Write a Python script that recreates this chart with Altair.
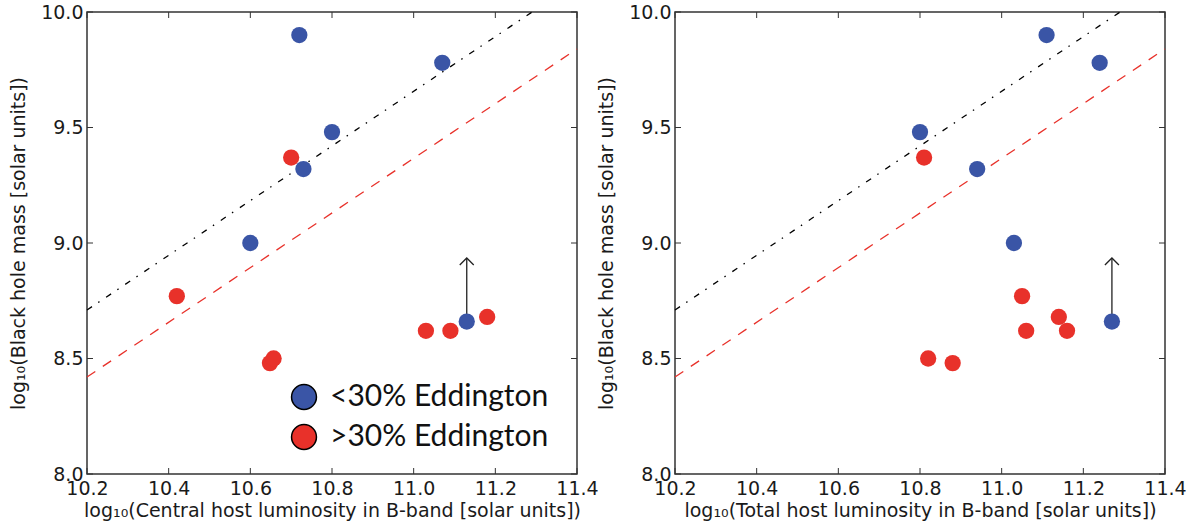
import altair as alt
import pandas as pd

# ---------------- data ----------------
x_ticks = [10.2, 10.4, 10.6, 10.8, 11.0, 11.2, 11.4]
y_ticks = [8.0, 8.5, 9.0, 9.5, 10.0]

groups = ["<30% Eddington", ">30% Eddington"]
colors = ["#3a55a6", "#e8312a"]

left_low_x = [10.72, 11.07, 10.80, 10.73, 10.60, 11.13]
left_low_y = [9.90, 9.78, 9.48, 9.32, 9.00, 8.66]
left_high_x = [10.70, 10.42, 10.648, 10.657, 11.03, 11.09, 11.18]
left_high_y = [9.37, 8.77, 8.48, 8.50, 8.62, 8.62, 8.68]

right_low_x = [11.11, 11.24, 10.80, 10.94, 11.03, 11.27]
right_low_y = [9.90, 9.78, 9.48, 9.32, 9.00, 8.66]
right_high_x = [10.81, 11.05, 11.14, 11.06, 11.16, 10.82, 10.88]
right_high_y = [9.37, 8.77, 8.68, 8.62, 8.62, 8.50, 8.48]

black_line_x = [10.2, 11.29]
black_line_y = [8.71, 10.0]
red_line_x = [10.2, 11.4]
red_line_y = [8.42, 9.84]

left_arrow_x = [11.13]
right_arrow_x = [11.27]
arrow_from = [8.66]
arrow_to = [8.935]

x_titles = [
    "log\u2081\u2080(Central host luminosity in B-band [solar units])",
    "log\u2081\u2080(Total host luminosity in B-band [solar units])",
]
y_title = "log\u2081\u2080(Black hole mass [solar units])"

W, H = 490, 462
TICK = 6
FRAME = "#333333"
AXFONT = "DejaVu Sans"


def points_df(hx, hy, lx, ly):
    rows = [{"x": a, "y": b, "g": groups[1]} for a, b in zip(hx, hy)]
    rows += [{"x": a, "y": b, "g": groups[0]} for a, b in zip(lx, ly)]
    return pd.DataFrame(rows)


xscale = alt.Scale(domain=[10.2, 11.4], nice=False, zero=False)
yscale = alt.Scale(domain=[8.0, 10.0], nice=False, zero=False)


def panel(pts, arrow_x, xtitle, show_legend):
    xt = pd.DataFrame({"v": x_ticks})
    yt = pd.DataFrame({"v": y_ticks})

    x_axis = alt.Axis(
        values=x_ticks, format=".1f", title=xtitle, grid=False, domain=False,
        ticks=False, labelPadding=5, labelFlush=False, labelOverlap=False,
        labelFont=AXFONT, labelFontSize=19, labelColor="#1a1a1a",
        titleFont=AXFONT, titleFontSize=19, titleFontWeight="normal",
        titleColor="#1a1a1a", titlePadding=3,
    )
    y_axis = alt.Axis(
        values=y_ticks, format=".1f", title=y_title, grid=False, domain=False,
        ticks=False, labelPadding=4, labelFlush=False, labelOverlap=False,
        labelFont=AXFONT, labelFontSize=19, labelColor="#1a1a1a",
        titleFont=AXFONT, titleFontSize=19, titleFontWeight="normal",
        titleColor="#1a1a1a", titlePadding=12,
    )

    bx = alt.X("v:Q", scale=xscale, axis=x_axis)
    ticks_bottom = alt.Chart(xt).mark_rule(color=FRAME, strokeWidth=1).encode(
        x=bx, y=alt.value(H), y2=alt.value(H - TICK))
    ticks_top = alt.Chart(xt).mark_rule(color=FRAME, strokeWidth=1).encode(
        x=alt.X("v:Q", scale=xscale), y=alt.value(0), y2=alt.value(TICK))
    ticks_left = alt.Chart(yt).mark_rule(color=FRAME, strokeWidth=1).encode(
        y=alt.Y("v:Q", scale=yscale, axis=y_axis), x=alt.value(0), x2=alt.value(TICK))
    ticks_right = alt.Chart(yt).mark_rule(color=FRAME, strokeWidth=1).encode(
        y=alt.Y("v:Q", scale=yscale), x=alt.value(W), x2=alt.value(W - TICK))

    black = alt.Chart(pd.DataFrame({"x": black_line_x, "y": black_line_y})).mark_line(
        color="black", strokeWidth=1.3, strokeDash=[6, 7.5, 1.5, 8]).encode(
        x=alt.X("x:Q", scale=xscale), y=alt.Y("y:Q", scale=yscale))
    red = alt.Chart(pd.DataFrame({"x": red_line_x, "y": red_line_y})).mark_line(
        color="#e8312a", strokeWidth=1.3, strokeDash=[10, 9]).encode(
        x=alt.X("x:Q", scale=xscale), y=alt.Y("y:Q", scale=yscale))

    adf = pd.DataFrame({"x": arrow_x, "y": arrow_from, "y2": arrow_to})
    shaft = alt.Chart(adf).mark_rule(color="#222222", strokeWidth=1.3).encode(
        x=alt.X("x:Q", scale=xscale), y=alt.Y("y:Q", scale=yscale), y2="y2:Q")
    head = alt.Chart(adf).mark_point(
        shape="M-1,1L0,0L1,1", filled=False, color="#222222", strokeWidth=1.3,
        size=196, opacity=1).encode(
        x=alt.X("x:Q", scale=xscale), y=alt.Y("y2:Q", scale=yscale))

    if show_legend:
        legend = alt.Legend(
            title=None, orient="none", legendX=202, legendY=370,
            symbolType="circle", symbolSize=620, symbolStrokeColor="black",
            symbolStrokeWidth=1.5, symbolOpacity=1, labelFont="Lato",
            labelFontSize=30, labelColor="#111111", labelOffset=11,
            labelLimit=0, rowPadding=8, padding=0,
        )
    else:
        legend = None

    pts_layer = alt.Chart(pts).mark_circle(size=265, opacity=1).encode(
        x=alt.X("x:Q", scale=xscale),
        y=alt.Y("y:Q", scale=yscale),
        color=alt.Color("g:N", scale=alt.Scale(domain=groups, range=colors),
                        legend=legend, sort=groups),
    )

    return alt.layer(
        ticks_bottom, ticks_left, ticks_top, ticks_right,
        black, red, shaft, head, pts_layer,
    ).properties(width=W, height=H)


left = panel(points_df(left_high_x, left_high_y, left_low_x, left_low_y),
             left_arrow_x, x_titles[0], True)
right = panel(points_df(right_high_x, right_high_y, right_low_x, right_low_y),
              right_arrow_x, x_titles[1], False)

chart = alt.hconcat(left, right, spacing=98, bounds="flush").properties(
    padding={"left": 8, "top": 2, "right": 5, "bottom": 5},
    background="white",
).configure_view(stroke=FRAME, strokeWidth=1.5)

chart.save("out.html", embed_options={"renderer": "svg", "actions": False})
